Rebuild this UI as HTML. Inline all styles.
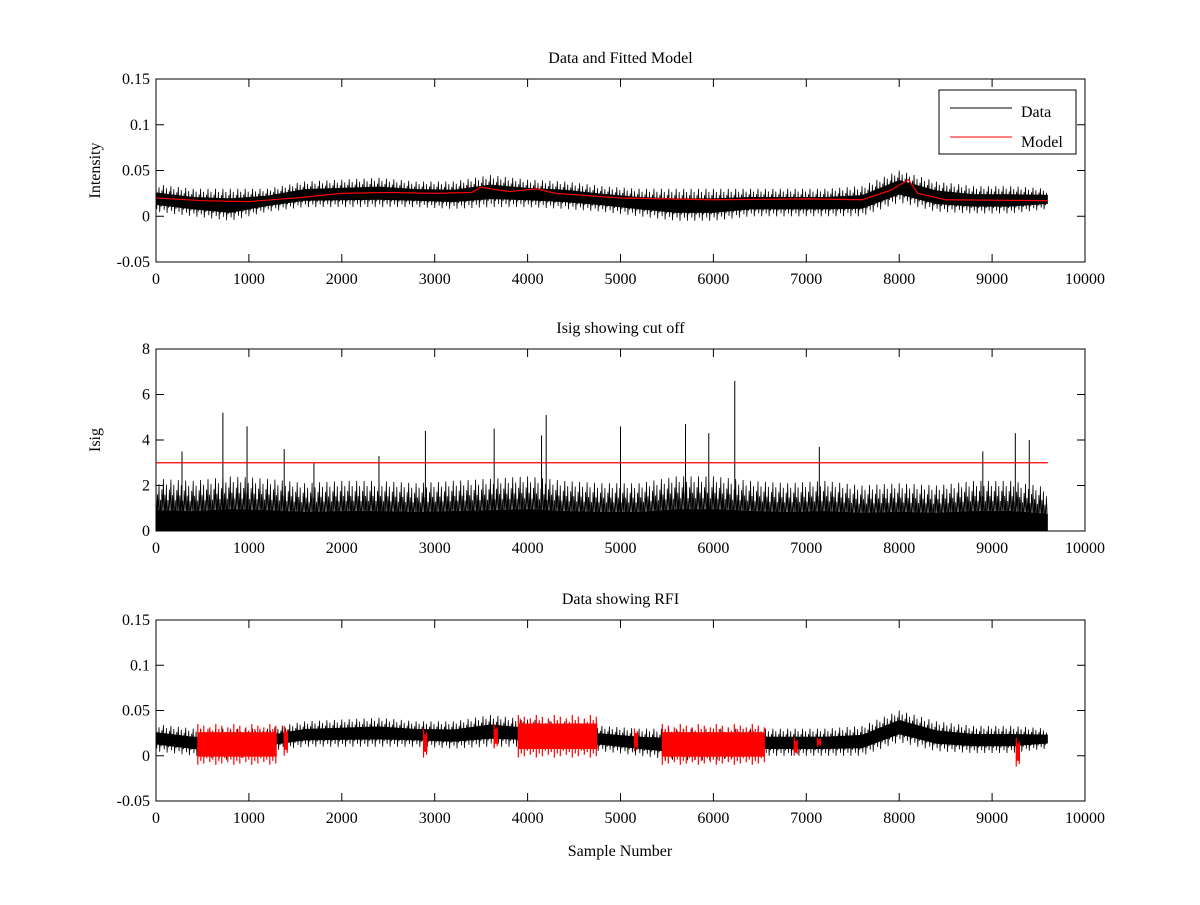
<!DOCTYPE html>
<html><head><meta charset="utf-8">
<style>
body{margin:0;background:#fff;}
svg text{font-family:"Liberation Serif",serif;font-size:16px;fill:#000;}
</style></head>
<body>
<svg id="chart" width="1200" height="900" xmlns="http://www.w3.org/2000/svg"></svg>
<script>
const binStarts=[0,400,800,1200,1600,2000,2400,2800,3200,3600,4000,4400,4800,5200,5600,6000,6400,6800,7200,7600,8000,8400,8800,9200,9600];
const dataLow=[0.005,0.0,-0.005,0.005,0.01,0.01,0.01,0.01,0.008,0.01,0.01,0.008,0.005,0.0,-0.005,-0.005,0.0,0.0,0.0,0.0,0.015,0.005,0.003,0.003,0.008];
const dataHigh=[0.035,0.03,0.03,0.03,0.038,0.04,0.042,0.038,0.038,0.045,0.04,0.038,0.033,0.03,0.03,0.03,0.03,0.03,0.03,0.033,0.05,0.038,0.033,0.033,0.03];
const modelX=[0,500,1000,1500,2000,2500,3000,3400,3500,3600,3800,4100,4300,5000,6000,7000,7600,7900,8100,8200,8500,9600];
const modelY=[0.02,0.017,0.016,0.02,0.025,0.026,0.025,0.026,0.032,0.03,0.027,0.03,0.025,0.02,0.018,0.019,0.018,0.028,0.04,0.025,0.018,0.017];
const isigHigh=[2.3,2.2,2.4,2.3,2.1,2.2,2.2,2.1,2.2,2.3,2.4,2.2,2.1,2.1,2.4,2.4,2.2,2.1,2.2,2.0,2.1,2.0,2.2,2.2,1.9];
const spikeX=[280,720,980,1380,1700,2400,2900,3640,4150,4200,5000,5700,5950,6230,7140,8900,9250,9400];
const spikeY=[3.5,5.2,4.6,3.6,3.0,3.3,4.4,4.5,4.2,5.1,4.6,4.7,4.3,6.6,3.7,3.5,4.3,4.0];
const cutoff=3;
const rfiStart=[450,1380,2880,3640,3900,5150,5450,6870,7120,9260];
const rfiEnd=[1300,1420,2920,3680,4750,5170,6550,6890,7150,9300];
const rfiLow=[-0.01,0.0,-0.002,0.008,-0.002,0.005,-0.01,0.0,0.01,-0.012];
const rfiHigh=[0.035,0.033,0.03,0.035,0.045,0.03,0.035,0.02,0.02,0.02];
const xTicks=[0,1000,2000,3000,4000,5000,6000,7000,8000,9000,10000];
const yTicksA=[-0.05,0,0.05,0.1,0.15];
const yTicksB=[0,2,4,6,8];

const NS="http://www.w3.org/2000/svg";
const svg=document.getElementById('chart');
function el(t,a,p){const e=document.createElementNS(NS,t);for(const k in a)e.setAttribute(k,a[k]);(p||svg).appendChild(e);return e;}
const X0=156,X1=1085;
function sx(v){return X0+(v/10000)*(X1-X0);}
function makeAxes(top,bot,ymin,ymax,yt,title,ylabel,name){
  const g=el('g',{});
  
  
  const sy=v=>bot-(v-ymin)/(ymax-ymin)*(bot-top);
  el('rect',{x:X0,y:top,width:X1-X0,height:bot-top,fill:'#fff',stroke:'#000','stroke-width':1},g);
  xTicks.forEach(t=>{const x=sx(t);
    el('line',{x1:x,x2:x,y1:bot,y2:bot-8,stroke:'#000'},g);
    el('line',{x1:x,x2:x,y1:top,y2:top+8,stroke:'#000'},g);
    const tx=el('text',{x:x,y:bot+22,'text-anchor':'middle'},g);tx.textContent=t;
    
    });
  yt.forEach(t=>{const y=sy(t);
    el('line',{x1:X0,x2:X0+8,y1:y,y2:y,stroke:'#000'},g);
    el('line',{x1:X1,x2:X1-8,y1:y,y2:y,stroke:'#000'},g);
    const tx=el('text',{x:X0-6,y:y+5,'text-anchor':'end'},g);tx.textContent=t;
    
    });
  const tt=el('text',{x:(X0+X1)/2,y:top-16,'text-anchor':'middle'},g);tt.textContent=title;
  
  
  if(ylabel){const yl=el('text',{x:0,y:0,'text-anchor':'middle',transform:`translate(100,${(top+bot)/2}) rotate(-90)`},g);yl.textContent=ylabel;
    
    }
  return {g,sy};
}
function band(g,sy,lo,hi,color,name,core){
  let d='';
  const pat=[1,0.1,0.7,0.3,0.9,0,0.6,0.2,0.8,0.4];
  let k=0;
  for(let i=0;i<binStarts.length-1;i++){
    const a=binStarts[i],b=binStarts[i+1];
    for(let s=a;s<b;s+=8){
      const f=(s-a)/(b-a);
      const l=lo[i]+(lo[i+1]-lo[i])*f,h=hi[i]+(hi[i+1]-hi[i])*f;
      const v=l+(h-l)*pat[k%pat.length];k++;
      d+=(d?'L':'M')+sx(s).toFixed(1)+','+sy(v).toFixed(1);
    }
  }
  const p=el('path',{d:d,fill:'none',stroke:color,'stroke-width':0.8},g);
  
  
  let pts=[];
  for(let i=0;i<binStarts.length;i++)pts.push(sx(binStarts[i])+','+sy(lo[i]+(hi[i]-lo[i])*core[0]));
  for(let i=binStarts.length-1;i>=0;i--)pts.push(sx(binStarts[i])+','+sy(lo[i]+(hi[i]-lo[i])*core[1]));
  el('polygon',{points:pts.join(' '),fill:color},g);
}
const A=makeAxes(79,262,-0.05,0.15,yTicksA,'Data and Fitted Model','Intensity','data-model-axes');
band(A.g,A.sy,dataLow,dataHigh,'#000','data-series',[0.25,0.7]);
const mp=el('polyline',{points:modelX.map((x,i)=>sx(x)+','+A.sy(modelY[i])).join(' '),fill:'none',stroke:'#f00','stroke-width':1.2},A.g);


const lg=el('g',{},A.g);


el('rect',{x:939,y:90,width:137,height:64,fill:'#fff',stroke:'#000'},lg);
el('line',{x1:950,x2:1012,y1:108,y2:108,stroke:'#000'},lg);
el('line',{x1:950,x2:1012,y1:137,y2:137,stroke:'#f00'},lg);
const l1=el('text',{x:1021,y:117},lg);l1.textContent='Data';


const l2=el('text',{x:1021,y:147},lg);l2.textContent='Model';


const B=makeAxes(349,531,0,8,yTicksB,'Isig showing cut off','Isig','isig-axes');
band(B.g,B.sy,isigHigh.map(()=>0),isigHigh,'#000','isig-series',[0,0.4]);
spikeX.forEach((x,i)=>{const l=el('line',{x1:sx(x),x2:sx(x),y1:B.sy(0),y2:B.sy(spikeY[i]),stroke:'#000','stroke-width':1},B.g);
  
  });
const co=el('line',{x1:sx(0),x2:sx(9600),y1:B.sy(cutoff),y2:B.sy(cutoff),stroke:'#f00','stroke-width':1.2},B.g);


const C=makeAxes(620,801,-0.05,0.15,yTicksA,'Data showing RFI','','rfi-axes');
band(C.g,C.sy,dataLow,dataHigh,'#000','rfi-data-series',[0.25,0.7]);
rfiStart.forEach((s,i)=>{
  const x0=sx(s),x1=sx(rfiEnd[i]),y0=C.sy(rfiHigh[i]),y1=C.sy(rfiLow[i]);
  const w=Math.max(x1-x0,3);
  const r=el('rect',{x:x0,y:y0+(y1-y0)*0.2,width:w,height:(y1-y0)*0.6,fill:'#f00'},C.g);
  
  
  const pat=[0,0.3,0.1,0.5,0.2,0.4];
  for(let k=0;k<=Math.floor(w/3);k++){const xx=x0+k*3;const o=(y1-y0)*pat[k%6]*0.4;
    el('line',{x1:xx,x2:xx,y1:y0+o,y2:y1-o*0.8,stroke:'#f00','stroke-width':1.2},C.g);}
});
const xl=el('text',{x:620,y:856,'text-anchor':'middle'});xl.textContent='Sample Number';


</script>
</body></html>
